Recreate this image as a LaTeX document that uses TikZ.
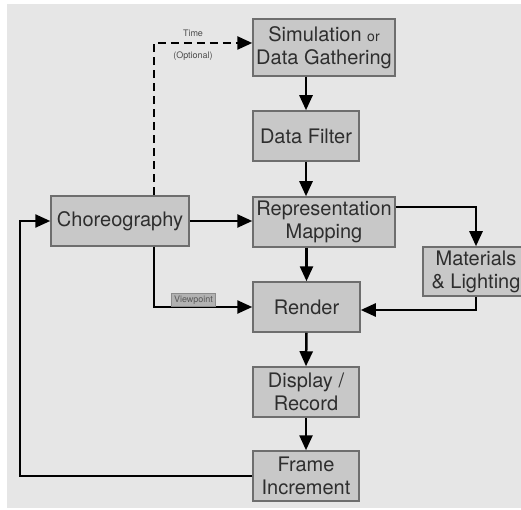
\documentclass[tikz,border=0pt]{standalone}
\usepackage{fontspec}
\setmainfont{TeX Gyre Heros}
\usetikzlibrary{arrows.meta}
\definecolor{bg}{HTML}{E6E6E6}
\definecolor{boxfill}{HTML}{C8C8C8}
\definecolor{boxline}{HTML}{6E6E6E}
\definecolor{txt}{HTML}{2E2E2E}
\begin{document}
\begin{tikzpicture}[x=1pt,y=-1pt,
  box/.style={draw=boxline, line width=1.5pt, fill=boxfill, inner sep=0pt,
    align=center, text=txt, font=\fontsize{20}{23}\selectfont},
  conn/.style={line width=2.5pt, -{Triangle[length=15pt,width=13pt]}},
  small/.style={font=\fontsize{9}{10}\selectfont, text=txt!85}]
\useasboundingbox (0,0) rectangle (521,510);
\fill[white] (0,0) rectangle (521,510);
\fill[bg] (7,4) rectangle (521,508);

\node[box, minimum width=142pt, minimum height=57pt] (sim) at (324,47.5)
  {Simulation {\fontsize{14}{16}\selectfont or}\\Data Gathering};
\node[box, minimum width=106pt, minimum height=50pt] (filt) at (306,136) {Data Filter};
\node[box, minimum width=142pt, minimum height=50pt] (rep) at (324,222) {Representation\\Mapping};
\node[box, minimum width=138pt, minimum height=50pt] (chor) at (120,221) {Choreography};
\node[box, minimum width=106pt, minimum height=49pt] (mat) at (476,271.5) {Materials\\\& Lighting};
\node[box, minimum width=107pt, minimum height=50pt] (rend) at (306.5,307) {Render};
\node[box, minimum width=106pt, minimum height=50pt] (disp) at (306,392) {Display /\\Record};
\node[box, minimum width=106pt, minimum height=50pt] (frame) at (306,476) {Frame\\Increment};

\coordinate (dx) at (154,43);
\coordinate (fx) at (20,477);
\coordinate (mx) at (476,207);
\coordinate (my) at (476,310);

\draw[conn] (sim.south -| filt.north) -- (filt.north);
\draw[conn] (filt.south) -- (rep.north -| filt.south);
\draw[conn] (rep.south -| rend.north) -- (rend.north);
\draw[conn] (rend.south) -- (disp.north);
\draw[conn] (disp.south) -- (frame.north);
\draw[conn] (frame.west) -| (chor.west -| fx) -- (chor.west);
\draw[conn] (chor.east) -- (rep.west |- chor.east);
\draw[conn, dash pattern=on 8pt off 5pt] (chor.north -| dx) |- (sim.west |- dx);
\draw[conn] (chor.south -| dx) |- (rend.west);
\draw[conn] (rep.east |- mx) -| (mat.north);
\draw[conn] (mat.south) |- (rend.east |- my);

\node[small] (time) at (193,33) {Time};
\node[small] (opt) at (193,56) {(Optional)};
\node[fill=black!30, draw=black!45, line width=1pt, inner xsep=2.5pt, inner ysep=2pt,
  font=\fontsize{9}{10}\selectfont, text=black!65] (vp) at (193.5,300) {Viewpoint};
\end{tikzpicture}
\end{document}
